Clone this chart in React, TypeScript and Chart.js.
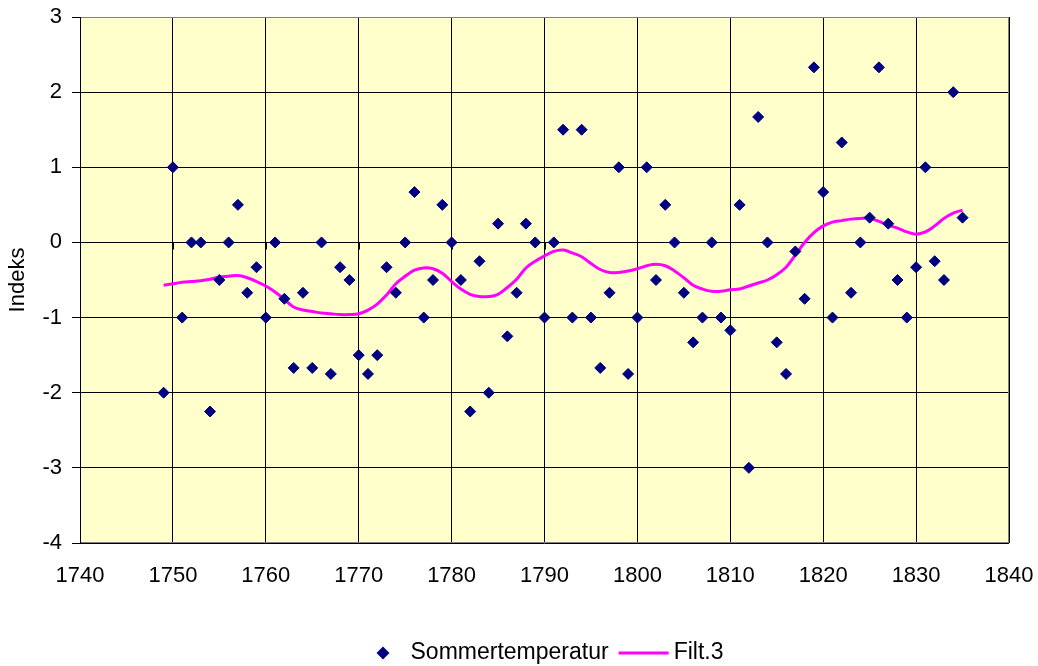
import React, { useEffect, useRef } from "react";
import { Chart, registerables } from "chart.js";

Chart.register(...registerables);

const years = [
  1749, 1750, 1751, 1752, 1753, 1754, 1755, 1756, 1757, 1758, 1759,
  1760, 1761, 1762, 1763, 1764, 1765, 1766, 1767, 1768, 1769,
  1770, 1771, 1772, 1773, 1774, 1775, 1776, 1777, 1778, 1779,
  1780, 1781, 1782, 1783, 1784, 1785, 1786, 1787, 1788, 1789,
  1790, 1791, 1792, 1793, 1794, 1795, 1796, 1797, 1798, 1799,
  1800, 1801, 1802, 1803, 1804, 1805, 1806, 1807, 1808, 1809,
  1810, 1811, 1812, 1813, 1814, 1815, 1816, 1817, 1818, 1819,
  1820, 1821, 1822, 1823, 1824, 1825, 1826, 1827, 1828, 1829,
  1830, 1831, 1832, 1833, 1834, 1835,
];

const summerTemp = [
  -2, 1, -1, 0, 0, -2.25, -0.5, 0, 0.5, -0.67, -0.33,
  -1, 0, -0.75, -1.67, -0.67, -1.67, 0, -1.75, -0.33, -0.5,
  -1.5, -1.75, -1.5, -0.33, -0.67, 0, 0.67, -1, -0.5, 0.5,
  0, -0.5, -2.25, -0.25, -2, 0.25, -1.25, -0.67, 0.25, 0,
  -1, 0, 1.5, -1, 1.5, -1, -1.67, -0.67, 1, -1.75,
  -1, 1, -0.5, 0.5, 0, -0.67, -1.33, -1, 0, -1,
  -1.17, 0.5, -3, 1.67, 0, -1.33, -1.75, -0.12, -0.75, 2.33,
  0.67, -1, 1.33, -0.67, 0, 0.33, 2.33, 0.25, -0.5, -1,
  -0.33, 1, -0.25, -0.5, 2, 0.33,
];

const filt3 = [
  -0.57, -0.55, -0.53, -0.52, -0.51, -0.49, -0.46, -0.45, -0.44, -0.47, -0.52,
  -0.58, -0.66, -0.76, -0.86, -0.9, -0.92, -0.94, -0.95, -0.96, -0.96,
  -0.95, -0.9, -0.82, -0.7, -0.55, -0.45, -0.37, -0.34, -0.35, -0.41,
  -0.52, -0.62, -0.69, -0.72, -0.72, -0.69, -0.6, -0.49, -0.34, -0.25,
  -0.18, -0.12, -0.1, -0.14, -0.19, -0.28, -0.36, -0.4, -0.4, -0.38,
  -0.35, -0.31, -0.29, -0.31, -0.38, -0.47, -0.57, -0.62, -0.65, -0.65,
  -0.63, -0.62, -0.58, -0.54, -0.5, -0.43, -0.33, -0.17, 0, 0.13,
  0.22, 0.27, 0.29, 0.31, 0.32, 0.32, 0.28, 0.23, 0.19, 0.14,
  0.11, 0.14, 0.22, 0.32, 0.39, 0.43,
];

const xMin = 1740;
const xMax = 1840;
const xStep = 10;
const yMin = -4;
const yMax = 3;
const yStep = 1;

const seriesNames = ["Sommertemperatur", "Filt.3"];

const FONT = '"Liberation Sans", Arial, Helvetica, sans-serif';
const MARKER = "#000080";
const LINE = "#FF00FF";
const PLOT_BG = "#FFFFCC";

const chartDecor = {
  id: "chartDecor",
  beforeDraw(chart: any) {
    const { ctx, chartArea } = chart;
    ctx.save();
    ctx.fillStyle = PLOT_BG;
    ctx.fillRect(chartArea.left, chartArea.top, chartArea.right - chartArea.left, chartArea.bottom - chartArea.top);
    ctx.restore();
  },
  beforeDatasetsDraw(chart: any) {
    const { ctx, chartArea, scales } = chart;
    ctx.save();
    ctx.strokeStyle = "#808080";
    ctx.lineWidth = 1;
    ctx.strokeRect(
      Math.round(chartArea.left) + 0.5,
      Math.round(chartArea.top) + 0.5,
      Math.round(chartArea.right - chartArea.left) - 1,
      Math.round(chartArea.bottom - chartArea.top) - 1
    );
    ctx.strokeStyle = "#000";
    ctx.beginPath();
    ctx.moveTo(Math.round(chartArea.left) + 0.5, chartArea.top);
    ctx.lineTo(Math.round(chartArea.left) + 0.5, chartArea.bottom);
    ctx.stroke();
    const y0 = Math.round(scales.y.getPixelForValue(0)) + 0.5;
    ctx.beginPath();
    for (let v = xMin; v <= xMax; v += xStep) {
      const px = Math.round(scales.x.getPixelForValue(v)) + 0.5;
      ctx.moveTo(px, y0);
      ctx.lineTo(px, y0 + 7);
    }
    ctx.stroke();
    ctx.restore();
  },
  afterDraw(chart: any) {
    const { ctx } = chart;
    ctx.save();
    ctx.font = `23px ${FONT}`;
    ctx.textBaseline = "middle";
    ctx.fillStyle = "#000";
    const w1 = ctx.measureText(seriesNames[0]).width;
    const w2 = ctx.measureText(seriesNames[1]).width;
    const r = 6.5;
    const total = 2 * r + 21 + w1 + 10 + 50 + 5 + w2;
    let x = chart.width / 2 + 31 - total / 2;
    const y = 653;
    ctx.fillStyle = MARKER;
    ctx.beginPath();
    ctx.moveTo(x, y);
    ctx.lineTo(x + r, y - r);
    ctx.lineTo(x + 2 * r, y);
    ctx.lineTo(x + r, y + r);
    ctx.closePath();
    ctx.fill();
    x += 2 * r + 21;
    ctx.fillStyle = "#000";
    ctx.fillText(seriesNames[0], x, y);
    x += w1 + 10;
    ctx.strokeStyle = LINE;
    ctx.lineWidth = 3;
    ctx.beginPath();
    ctx.moveTo(x, y);
    ctx.lineTo(x + 50, y);
    ctx.stroke();
    x += 55;
    ctx.fillText(seriesNames[1], x, y);
    ctx.restore();
  },
};

export default function App() {
  const canvasRef = useRef<HTMLCanvasElement | null>(null);

  useEffect(() => {
    const canvas = canvasRef.current;
    if (!canvas) return;
    const chart = new Chart(canvas, {
      type: "scatter",
      data: {
        datasets: [
          {
            type: "scatter",
            label: seriesNames[0],
            data: years.map((yr, i) => ({ x: yr, y: summerTemp[i] })),
            pointStyle: "rectRot",
            pointRadius: 5.5,
            pointHoverRadius: 5.5,
            backgroundColor: MARKER,
            borderColor: MARKER,
            borderWidth: 1,
            order: 1,
          },
          {
            type: "line",
            label: seriesNames[1],
            data: years.map((yr, i) => ({ x: yr, y: filt3[i] })),
            borderColor: LINE,
            backgroundColor: LINE,
            borderWidth: 3,
            pointRadius: 0,
            tension: 0.4,
            fill: false,
            order: 2,
          },
        ],
      },
      options: {
        animation: false,
        responsive: false,
        layout: { padding: { top: 17, right: 29, left: 0, bottom: 0 } },
        plugins: {
          legend: { display: false },
          tooltip: { enabled: false },
        },
        scales: {
          x: {
            type: "linear",
            min: xMin,
            max: xMax,
            ticks: {
              stepSize: xStep,
              color: "#000",
              font: { family: FONT, size: 22 },
              padding: 20,
              callback: (v: any) => String(v),
            },
            grid: { color: "#000", lineWidth: 1, drawTicks: false },
            border: { display: false },
            afterFit: (s: any) => {
              s.height = 123;
              s.paddingLeft = 0;
              s.paddingRight = 0;
            },
          },
          y: {
            min: yMin,
            max: yMax,
            ticks: {
              stepSize: yStep,
              color: "#000",
              font: { family: FONT, size: 22 },
              padding: 10,
            },
            grid: { color: "#000", lineWidth: 1, drawTicks: true, tickLength: 8 },
            border: { display: false },
            title: {
              display: true,
              text: "Indeks",
              color: "#000",
              font: { family: FONT, size: 22 },
              padding: { top: 5, bottom: 0 },
            },
            afterFit: (s: any) => {
              s.width = 80;
              s.paddingTop = 0;
              s.paddingBottom = 0;
            },
          },
        },
      },
      plugins: [chartDecor],
    });
    return () => chart.destroy();
  }, []);

  return (
    <div style={{ position: "fixed", left: 0, top: 0, width: 1038, height: 666, background: "#fff" }}>
      <canvas ref={canvasRef} width={1038} height={666} />
    </div>
  );
}
